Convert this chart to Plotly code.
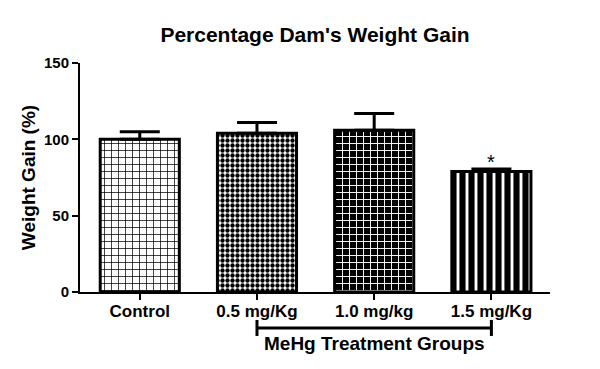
import plotly.graph_objects as go

categories = ["Control", "0.5 mg/Kg", "1.0 mg/kg", "1.5 mg/Kg"]
means = [100, 104, 106, 79]
sem = [5, 7, 11, 1.5]
y_ticks = [0, 50, 100, 150]
group_label = "MeHg Treatment Groups"

FONT = "Liberation Sans, Arial, sans-serif"

patterns = [
    dict(shape="+", fgcolor="black", bgcolor="white", size=7, solidity=0.2, fillmode="replace"),
    dict(shape=".", fgcolor="black", bgcolor="white", size=5, solidity=0.6, fillmode="replace"),
    dict(shape="+", fgcolor="white", bgcolor="black", size=7, solidity=0.25, fillmode="replace"),
    dict(shape="|", fgcolor="black", bgcolor="white", size=9, solidity=0.68, fillmode="replace"),
]

fig = go.Figure()
for i, cat in enumerate(categories):
    fig.add_trace(go.Bar(
        x=[i], y=[means[i]], width=0.675,
        marker=dict(color="white", line=dict(color="black", width=3), pattern=patterns[i]),
        error_y=dict(type="data", symmetric=False, array=[sem[i]], arrayminus=[0],
                     color="black", thickness=3, width=20),
        showlegend=False,
    ))

fig.add_annotation(x=3, y=means[3] + sem[3], text="*", showarrow=False, yanchor="bottom",
                   yshift=-6, font=dict(family=FONT, size=20, color="black"))

# bracket for treatment groups
fig.add_shape(type="line", xref="x", yref="paper", x0=1, x1=3, y0=-0.157, y1=-0.157,
              line=dict(color="black", width=3))
for xv in (1, 3):
    fig.add_shape(type="line", xref="x", yref="paper", x0=xv, x1=xv, y0=-0.122, y1=-0.192,
                  line=dict(color="black", width=3))
fig.add_annotation(x=2, y=-0.227, xref="x", yref="paper", text="<b>%s</b>" % group_label,
                   showarrow=False, yanchor="middle", font=dict(family=FONT, size=19, color="black"))

fig.update_layout(
    width=600, height=369,
    margin=dict(l=72, r=58, t=55, b=85),
    paper_bgcolor="white", plot_bgcolor="white",
    title=dict(text="<b>Percentage Dam's Weight Gain</b>", x=0.5, xref="paper", xanchor="center",
               y=0.927, yanchor="middle", font=dict(family=FONT, size=21, color="black")),
    font=dict(family=FONT, color="black"),
    xaxis=dict(range=[-0.51, 3.5], tickmode="array", tickvals=list(range(len(categories))),
               ticktext=["<b>%s</b>" % c for c in categories], tickfont=dict(size=17),
               ticklabelstandoff=-3,
               showline=True, linecolor="black", linewidth=2, ticks="outside",
               ticklen=6, tickwidth=2, tickcolor="black", showgrid=False, zeroline=False),
    yaxis=dict(range=[0, 150], tickmode="array", tickvals=y_ticks,
               ticktext=["<b>%d</b>" % v for v in y_ticks], tickfont=dict(size=15),
               title=dict(text="<b>Weight Gain (%)</b>", font=dict(size=19), standoff=3),
               showline=True, linecolor="black", linewidth=2, ticks="outside",
               ticklen=6, tickwidth=2, tickcolor="black", showgrid=False, zeroline=False),
)

fig.write_html("out.html")
